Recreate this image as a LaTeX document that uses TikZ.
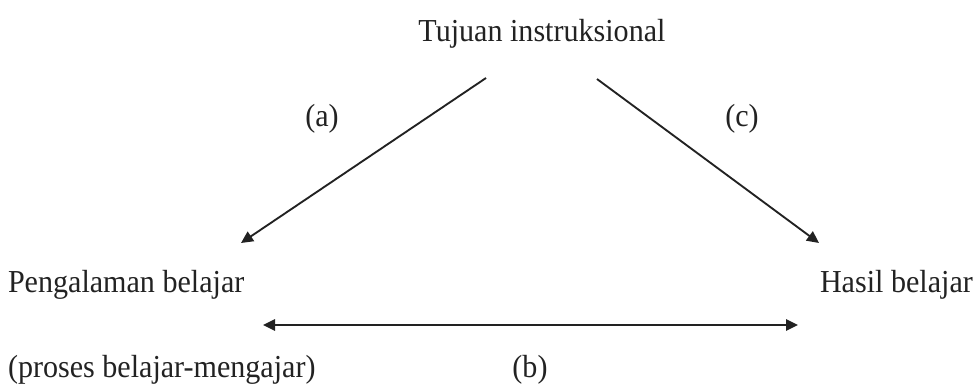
\documentclass[tikz,border=0pt]{standalone}
\usepackage{fontspec}
\setmainfont{Liberation Serif}
\usetikzlibrary{arrows.meta}
\definecolor{ink}{HTML}{222222}
\tikzset{
  lbl/.style={inner sep=0pt, outer sep=0pt, text=ink, font=\fontsize{24}{28}\selectfont},
  conn/.style={draw=ink, line width=1.4pt, -{Triangle[length=9pt,width=8.5pt]}},
  conn2/.style={draw=ink, line width=1.4pt, {Triangle[length=9pt,width=8.5pt]}-{Triangle[length=9pt,width=8.5pt]}}
}
\newcommand{\sq}[1]{\scalebox{0.94}[1]{#1}}
\begin{document}
\begin{tikzpicture}[x=0.75pt,y=-0.75pt]
\useasboundingbox[fill=white] (0,0) rectangle (975,387);
\node[lbl, anchor=base] (top) at (542,41) {\sq{Tujuan instruksional}};
\node[lbl, anchor=base] (la) at (322,126) {\sq{(a)}};
\node[lbl, anchor=base] (lc) at (742,126) {\sq{(c)}};
\node[lbl, anchor=base west] (left) at (8,292) {\sq{Pengalaman belajar}};
\node[lbl, anchor=base west] (right) at (820,292) {\sq{Hasil belajar}};
\node[lbl, anchor=base west] (proc) at (8,377) {\sq{(proses belajar-mengajar)}};
\node[lbl, anchor=base] (lb) at (530,377) {\sq{(b)}};
\coordinate (aS) at (486,78);
\coordinate (aE) at (241,243);
\coordinate (cS) at (597,79);
\coordinate (cE) at (819,243);
\coordinate (bL) at (263,325);
\coordinate (bR) at (798,325);
\draw[conn] (aS) -- (aE);
\draw[conn] (cS) -- (cE);
\draw[conn2] (bL) -- (bR);
\end{tikzpicture}
\end{document}
